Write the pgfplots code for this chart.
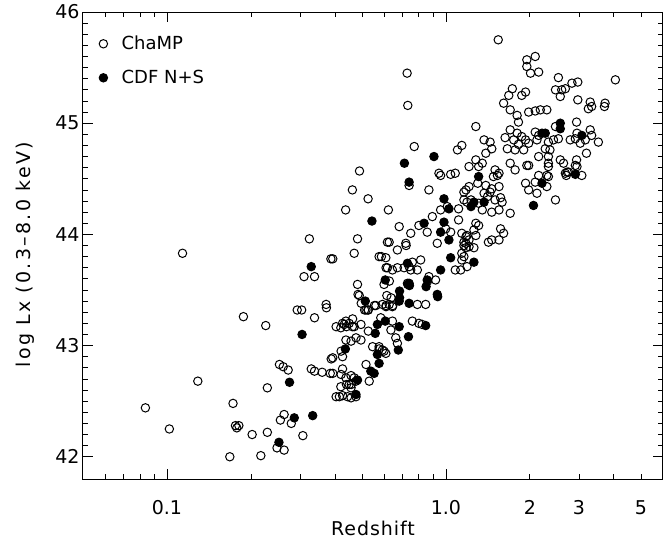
\documentclass[border=0pt]{standalone}
\usepackage{fontspec}
\setmainfont{DejaVu Sans}
\usepackage{pgfplots}
\pgfplotsset{compat=1.18}
\usepackage{pgfplotstable}
\pgfplotstableread{
z y
0.0837 42.44
0.102 42.25
0.129 42.68
0.1137 43.83
0.188 43.26
0.226 43.18
0.168 42.00
0.1725 42.48
0.176 42.28
0.178 42.26
0.181 42.28
0.202 42.20
0.217 42.01
0.229 42.62
0.229 42.22
0.253 42.83
0.261 42.81
0.272 42.78
0.255 42.33
0.263 42.38
0.248 42.08
0.263 42.06
0.279 42.30
0.293 43.32
0.304 43.32
0.307 42.19
0.310 43.62
0.338 43.62
0.338 43.25
0.329 42.79
0.338 42.77
0.360 42.76
0.385 42.75
0.372 43.37
0.373 43.34
0.388 42.88
0.324 43.96
0.387 43.78
0.490 44.57
0.462 44.40
0.526 44.32
0.437 44.22
0.622 44.22
0.482 43.96
0.617 43.93
0.393 43.78
0.469 43.83
0.576 43.80
0.587 43.80
0.610 43.70
0.482 43.55
0.600 43.55
0.489 43.45
0.614 43.45
0.517 43.32
0.527 43.32
0.561 43.36
0.610 43.35
0.404 43.17
0.426 43.20
0.438 43.22
0.450 43.20
0.463 43.24
0.440 43.17
0.462 43.17
0.496 43.19
0.584 43.25
0.420 43.16
0.432 43.19
0.469 43.17
0.527 43.13
0.438 43.05
0.457 43.04
0.476 43.07
0.496 43.05
0.421 42.95
0.393 42.89
0.426 42.90
0.546 42.99
0.576 42.97
0.600 42.95
0.517 42.83
0.393 42.75
0.426 42.79
0.421 42.74
0.438 42.71
0.457 42.73
0.469 42.71
0.476 42.68
0.450 42.65
0.457 42.62
0.531 42.68
0.404 42.54
0.415 42.54
0.426 42.55
0.444 42.54
0.457 42.53
0.476 42.54
0.420 42.63
0.440 42.65
0.458 42.65
0.592 43.37
0.626 43.37
0.643 43.35
0.790 43.37
0.846 43.37
0.643 43.22
0.758 43.22
0.800 43.20
0.822 43.19
0.635 43.14
0.661 43.07
0.670 43.02
0.576 42.99
0.592 42.96
0.609 42.93
0.627 43.58
0.860 43.58
0.636 43.43
0.645 43.36
0.610 43.36
0.484 43.46
0.497 43.38
0.511 43.32
0.554 43.36
0.525 43.32
0.738 44.44
0.869 44.40
0.944 44.55
1.04 44.54
1.08 44.55
1.011 44.25
1.16 44.38
1.19 44.29
0.894 44.16
0.957 44.22
1.11 44.23
0.800 44.08
0.857 44.02
0.748 44.01
0.998 44.05
1.04 44.02
1.11 44.13
0.931 43.92
1.19 43.99
1.16 43.90
1.18 43.88
1.16 43.93
0.626 43.93
0.670 43.86
0.718 43.92
0.609 43.79
0.738 43.71
0.758 43.75
0.812 43.77
0.790 43.68
0.748 43.68
0.708 43.70
0.670 43.70
0.643 43.68
0.617 43.70
1.08 43.68
1.14 43.77
0.869 43.62
0.728 43.56
0.918 43.59
1.21 44.61
1.31 44.61
1.35 44.64
1.50 44.58
1.53 44.53
1.48 44.52
1.55 44.55
1.70 44.64
1.77 44.58
1.95 44.62
2.33 44.64
2.33 44.61
1.93 44.46
1.98 44.40
2.09 44.47
2.12 44.37
2.30 44.43
2.33 44.52
2.15 44.53
2.47 44.31
1.18 44.40
1.21 44.43
1.39 44.44
1.46 44.41
1.55 44.43
1.37 44.37
1.44 44.38
1.16 44.31
1.23 44.31
1.31 44.28
1.50 44.31
1.57 44.33
1.59 44.29
1.46 44.20
1.55 44.22
1.70 44.19
1.35 44.22
1.14 44.01
1.18 43.98
1.21 43.95
1.28 44.10
1.31 44.08
1.26 44.04
1.28 43.99
1.18 43.92
1.21 43.89
1.26 43.88
1.14 43.83
1.16 43.80
1.13 43.68
1.19 43.71
1.42 43.93
1.46 43.95
1.57 44.05
1.61 44.01
1.55 43.95
1.95 45.57
2.09 45.60
1.95 45.51
2.01 45.45
2.15 45.46
1.73 45.31
1.68 45.25
1.61 45.18
1.93 45.28
1.87 45.25
1.70 45.12
1.80 45.07
1.98 45.10
2.09 45.11
1.82 45.01
1.70 44.94
1.63 44.87
1.80 44.91
1.87 44.88
1.75 44.85
1.82 44.81
1.93 44.85
1.98 44.82
1.66 44.77
1.77 44.76
1.90 44.76
2.09 44.92
2.12 44.85
1.28 44.97
1.37 44.85
1.44 44.83
1.46 44.77
1.39 44.73
1.14 44.80
1.10 44.76
0.957 44.53
1.28 44.67
2.53 45.41
2.47 45.30
2.60 45.30
2.68 45.31
2.83 45.36
2.97 45.37
2.57 45.24
4.05 45.39
2.97 45.21
3.29 45.19
3.24 45.13
3.33 45.15
3.72 45.18
3.70 45.15
2.18 45.12
2.30 45.12
2.47 44.97
2.94 45.01
2.15 44.89
3.29 44.94
3.33 44.89
2.91 44.86
3.03 44.82
3.52 44.83
3.19 44.73
2.33 44.83
2.43 44.85
2.53 44.86
2.27 44.77
2.36 44.76
2.33 44.70
2.15 44.70
1.98 44.62
2.57 44.67
2.64 44.64
2.75 44.56
2.94 44.67
2.91 44.62
2.68 44.55
2.30 44.53
1.54 45.75
0.726 45.45
0.730 45.16
0.770 44.79
0.680 44.07
0.720 43.90
1.30 44.46
1.41 44.34
3.16 44.85
2.95 44.91
2.79 44.85
2.95 44.61
2.72 44.56
2.70 44.53
3.07 44.53
}\champ
\pgfplotstableread{
z y
0.305 43.10
0.275 42.67
0.286 42.35
0.333 42.37
0.252 42.13
0.329 43.71
0.543 44.12
0.514 43.40
0.568 43.19
0.606 43.22
0.558 43.11
0.568 42.92
0.576 42.84
0.538 42.77
0.553 42.75
0.436 42.97
0.482 42.69
0.476 42.56
0.738 43.38
0.680 43.40
0.680 43.17
0.846 43.18
0.734 43.08
0.675 42.96
0.606 43.59
0.730 43.55
0.740 43.54
0.849 43.53
0.682 43.49
0.682 43.43
0.934 43.44
0.738 44.47
0.984 44.32
1.025 44.23
0.835 44.10
0.984 44.11
0.957 44.02
1.025 43.95
0.728 43.74
1.04 43.79
0.957 43.68
0.857 43.59
0.738 43.56
0.931 43.46
1.31 44.52
2.21 44.46
2.06 44.26
1.23 44.25
1.26 44.29
1.37 44.29
1.26 43.75
0.906 44.70
0.710 44.64
2.57 45.00
2.57 44.95
2.21 44.91
2.27 44.91
3.07 44.89
2.91 44.54
}\cdf
\begin{document}
\begin{tikzpicture}
\useasboundingbox (-83pt,-60pt) rectangle (581pt,479pt);
\begin{axis}[
  scale only axis,
  width=580pt, height=467pt,
  xmode=log,
  xmin=0.05, xmax=6,
  ymin=41.8, ymax=46,
  axis line style={line width=1pt},
  tick style={line width=0.8pt, black},
  tick align=inside,
  major tick length=10pt,
  minor tick length=5pt,
  xtick={0.1,1},
  xticklabels={0.1,1.0},
  extra x ticks={2,3,5},
  extra x tick labels={2,3,5},
  extra x tick style={major tick length=5pt},
  minor xtick={0.06,0.07,0.08,0.09,0.2,0.3,0.4,0.5,0.6,0.7,0.8,0.9,4},
  ytick={42,43,44,45,46},
  minor y tick num=9,
  /pgf/number format/assume math mode=true,
  /pgf/number format/1000 sep={},
  ticklabel style={font=\fontsize{19}{22}\selectfont},
  xticklabel style={yshift=-18pt},
  xlabel={\addfontfeature{LetterSpace=5}Redshift},
  ylabel={\addfontfeature{LetterSpace=12}log Lx (0.3--8.0 keV)},
  label style={font=\fontsize{19}{22}\selectfont},
  xlabel style={at={(axis description cs:0.5,-0.105)}, anchor=center},
  ylabel style={at={(axis description cs:-0.1,0.48)}, anchor=center},
  legend style={at={(axis description cs:0,1)}, anchor=north west, draw=none, fill=none,
    font=\fontsize{18}{21}\selectfont, row sep=15pt, xshift=13pt, yshift=-20pt},
  legend cell align=left,
]
\addplot[only marks, mark=o, mark size=4.2pt, mark options={line width=1pt, black}] table[x=z,y=y] {\champ};
\addlegendentry{\hspace{12pt}ChaMP}
\addplot[only marks, mark=*, mark size=4.2pt, mark options={line width=1pt, black, fill=black}] table[x=z,y=y] {\cdf};
\addlegendentry{\hspace{12pt}CDF N+S}
\end{axis}
\end{tikzpicture}
\end{document}
